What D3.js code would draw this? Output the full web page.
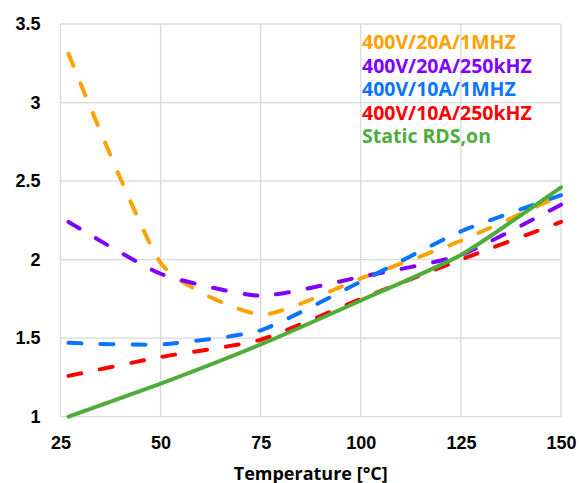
<!DOCTYPE html>
<html>
<head>
<meta charset="utf-8">
<script src="https://cdn.jsdelivr.net/npm/d3@7"></script>
<style>
  body { margin: 0; background: #fff; }
  svg { display: block; font-family: "Open Sans", "DejaVu Sans", sans-serif; }
</style>
</head>
<body>
<svg id="chart"></svg>
<script>
const temps = [27, 50, 75, 100, 125, 150];
const orange20A1M = [3.31, 1.98, 1.65, 1.88, 2.12, 2.41];
const purple20A250k = [2.24, 1.91, 1.77, 1.89, 2.03, 2.35];
const blue10A1M = [1.47, 1.46, 1.55, 1.86, 2.18, 2.41];
const red10A250k = [1.26, 1.38, 1.49, 1.75, 2.0, 2.24];
const staticRds = [1.0, 1.21, 1.46, 1.74, 2.03, 2.46];

const xTicks = [25, 50, 75, 100, 125, 150];
const yTicks = [1, 1.5, 2, 2.5, 3, 3.5];

const series = [
  { name: "400V/20A/1MHZ", values: orange20A1M, color: "#FFA200", dashed: true },
  { name: "400V/20A/250kHZ", values: purple20A250k, color: "#7F00FF", dashed: true },
  { name: "400V/10A/1MHZ", values: blue10A1M, color: "#0A74FF", dashed: true },
  { name: "400V/10A/250kHZ", values: red10A250k, color: "#FF0000", dashed: true },
  { name: "Static RDS,on", values: staticRds, color: "#4EAD3A", dashed: false }
];

const width = 579, height = 483;
const margin = { top: 24, right: 18, bottom: 66.3, left: 60.5 };

const svg = d3.select("#chart")
  .attr("width", width)
  .attr("height", height);

svg.append("rect").attr("width", width).attr("height", height).attr("fill", "#fff");

const x = d3.scaleLinear()
  .domain([25, 150])
  .range([margin.left, width - margin.right]);

const y = d3.scaleLinear()
  .domain([1, 3.5])
  .range([height - margin.bottom, margin.top]);

// grid
const grid = svg.append("g").attr("stroke", "#D9D9D9").attr("stroke-width", 1.3);
grid.selectAll("line.v")
  .data(xTicks)
  .join("line")
  .attr("class", "v")
  .attr("x1", d => x(d)).attr("x2", d => x(d))
  .attr("y1", y(1)).attr("y2", y(3.5));
grid.selectAll("line.h")
  .data(yTicks)
  .join("line")
  .attr("class", "h")
  .attr("x1", x(25)).attr("x2", x(150))
  .attr("y1", d => y(d)).attr("y2", d => y(d));

// axes
const xAxis = svg.append("g")
  .attr("transform", `translate(0,${y(1)})`)
  .call(d3.axisBottom(x).tickValues(xTicks).tickSize(0).tickPadding(20).tickFormat(d3.format("d")));
xAxis.select(".domain").remove();
xAxis.selectAll("text")
  .style("font-size", "18px")
  .style("font-weight", "700")
  .style("fill", "#000");

const yAxis = svg.append("g")
  .attr("transform", `translate(${margin.left},0)`)
  .call(d3.axisLeft(y).tickValues(yTicks).tickSize(0).tickPadding(20).tickFormat(d => d));
yAxis.select(".domain").remove();
yAxis.selectAll("text")
  .style("font-size", "18px")
  .style("font-weight", "700")
  .style("fill", "#000");

svg.append("text")
  .attr("x", (x(25) + x(150)) / 2)
  .attr("y", 480)
  .attr("text-anchor", "middle")
  .style("font-size", "18px")
  .style("font-weight", "700")
  .style("fill", "#000")
  .text("Temperature [°C]");

// lines (Excel-like smoothing, slightly tighter at the points)
const line = d3.line()
  .x((d, i) => x(temps[i]))
  .y(d => y(d))
  .curve(d3.curveCardinal.tension(0.45));

svg.append("g")
  .selectAll("path")
  .data(series)
  .join("path")
  .attr("d", d => line(d.values))
  .attr("fill", "none")
  .attr("stroke", d => d.color)
  .attr("stroke-width", 4)
  .attr("stroke-linecap", "round")
  .attr("stroke-dasharray", d => d.dashed ? "13 19" : null);

// legend
svg.append("g")
  .selectAll("text")
  .data(series)
  .join("text")
  .attr("x", 362)
  .attr("y", (d, i) => 49 + i * 23.5)
  .style("font-size", "19.5px")
  .style("font-weight", "700")
  .style("fill", d => d.color)
  .text(d => d.name);
</script>
</body>
</html>
